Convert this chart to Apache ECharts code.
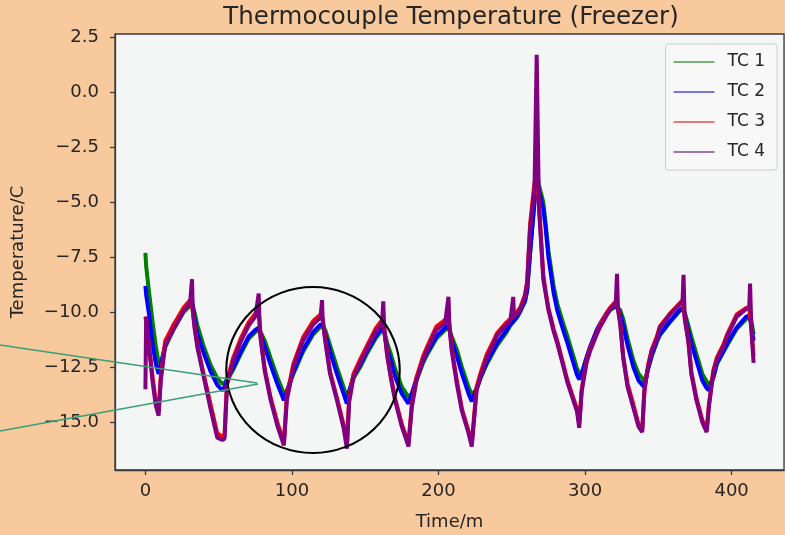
<!DOCTYPE html>
<html>
<head>
<meta charset="utf-8">
<script src="https://cdn.jsdelivr.net/npm/echarts@6/dist/echarts.min.js"></script>
<style>
html,body{margin:0;padding:0;background:#f8c99c;}
#chart{width:785px;height:535px;}
</style>
</head>
<body>
<div id="chart"></div>
<script>
// time in minutes
const timeMin = [
  0, 0.5, 2.5, 5, 7, 9, 10.5, 13.5, 19, 26,
  30.5, 31.8, 32.3, 33.5, 35.5, 40, 44.5, 49, 52.5, 54,
  55.7, 60, 65, 70.5, 75, 77.3, 77.8, 78.6, 81.5, 85.5,
  90, 94.5, 96.5, 101, 107.5, 114.5, 119.5, 120.5, 121, 122.7,
  126, 130.7, 135.2, 137.5, 139, 142, 146.5, 151, 157, 161.5,
  162.3, 163, 165, 167.5, 170.5, 175, 179.5, 181.8, 185, 189.5,
  192, 198.5, 204.5, 206.8, 207.5, 209, 212.5, 216, 220.5, 222.7,
  226, 229, 233, 237.5, 240, 246.5, 249, 251, 251.5, 253.5,
  256, 259, 260.5, 262.5, 265.5, 267, 268.5, 271.5, 273, 275,
  278.5, 281, 285.5, 288, 294.5, 296, 297.7, 301, 303.5, 308,
  310, 315, 317, 321, 321.8, 322.5, 324, 326, 329, 333,
  336.5, 339, 340.5, 343, 345.5, 349, 351, 358, 364.5, 366.5,
  367.2, 368, 370.5, 372.5, 376, 380, 383, 384.5, 387.5, 390,
  394.5, 397, 403.5, 410, 412, 412.6, 413.5, 415
];
const tc1 = [
  -7.3, -7.9, -9.1, -10.5, -11.5, -12.3, -12.3, -11.6, -10.8, -10.0,
  -9.7, -9.6, -9.7, -10.0, -10.6, -11.6, -12.4, -13.0, -13.25, -13.2,
  -13.1, -12.6, -11.9, -11.2, -10.9, -10.8, -10.8, -10.9, -11.3, -12.1,
  -12.95, -13.7, -13.6, -12.8, -11.8, -11.0, -10.65, -10.6, -10.6, -10.8,
  -11.5, -12.5, -13.4, -13.85, -13.6, -13.0, -12.5, -11.9, -11.2, -10.8,
  -10.8, -10.9, -11.4, -11.9, -12.6, -13.4, -13.85, -13.7, -13.1, -12.3,
  -11.95, -11.2, -10.8, -10.7, -10.8, -11.1, -11.7, -12.5, -13.4, -13.75,
  -13.5, -12.95, -12.35, -11.8, -11.5, -10.9, -10.6, -10.45, -10.4, -10.25,
  -9.95, -9.5, -9.0, -7.3, -4.9, -3.6, -4.2, -5.0, -5.9, -7.2,
  -8.8, -9.6, -10.6, -11.1, -12.55, -12.75, -12.8, -12.1, -11.6, -10.85,
  -10.6, -10.05, -9.9, -9.75, -9.7, -9.8, -9.9, -10.3, -11.2, -12.2,
  -12.8, -13.0, -13.15, -12.6, -12.0, -11.35, -11.05, -10.45, -9.95, -9.85,
  -9.85, -10.0, -10.6, -11.1, -11.9, -12.8, -13.15, -13.3, -13.0, -12.35,
  -11.8, -11.5, -10.75, -10.3, -10.2, -10.2, -10.4, -11.0
];
const tc2 = [
  -8.8, -9.2, -10.1, -11.5, -12.3, -12.8, -12.4, -11.5, -10.6, -9.9,
  -9.6, -9.5, -9.7, -10.3, -11.0, -11.9, -12.7, -13.3, -13.55, -13.4,
  -13.0, -12.5, -11.8, -11.1, -10.8, -10.7, -10.8, -11.0, -11.6, -12.4,
  -13.25, -14.0, -13.6, -12.7, -11.7, -10.9, -10.55, -10.5, -10.6, -11.0,
  -11.8, -12.8, -13.7, -14.15, -13.6, -12.9, -12.4, -11.8, -11.1, -10.7,
  -10.7, -10.9, -11.7, -12.2, -12.95, -13.7, -14.15, -13.7, -13.0, -12.2,
  -11.85, -11.1, -10.7, -10.6, -10.8, -11.3, -12.0, -12.8, -13.7, -14.05,
  -13.45, -12.9, -12.25, -11.7, -11.4, -10.8, -10.55, -10.4, -10.35, -10.2,
  -9.9, -9.5, -9.0, -7.3, -5.0, -3.9, -4.5, -5.3, -6.1, -7.5,
  -9.1, -9.9, -10.9, -11.4, -12.85, -13.05, -12.8, -12.05, -11.55, -10.8,
  -10.55, -10.0, -9.85, -9.7, -9.65, -9.8, -10.1, -10.6, -11.5, -12.5,
  -13.1, -13.3, -13.4, -12.55, -11.95, -11.3, -11.0, -10.4, -9.9, -9.8,
  -9.8, -10.1, -10.9, -11.4, -12.2, -13.1, -13.45, -13.55, -12.95, -12.3,
  -11.75, -11.4, -10.7, -10.2, -10.15, -10.15, -10.6, -11.3
];
const tc3 = [
  -10.2, -10.4, -11.5, -13.0, -14.0, -14.5, -12.9, -11.3, -10.6, -9.8,
  -9.45, -9.4, -9.9, -10.6, -11.5, -12.9, -14.2, -15.5, -15.65, -15.6,
  -13.1, -12.05, -11.2, -10.45, -10.05, -9.95, -10.3, -11.1, -12.6, -13.9,
  -15.0, -15.9, -13.8, -12.35, -11.15, -10.4, -10.1, -10.05, -10.3, -11.2,
  -12.7, -13.9, -15.1, -16.0, -13.9, -12.8, -12.15, -11.55, -10.75, -10.35,
  -10.3, -10.7, -11.9, -12.9, -13.95, -15.1, -15.95, -14.2, -12.95, -12.0,
  -11.6, -10.65, -10.35, -10.25, -10.6, -11.6, -13.1, -14.4, -15.4, -15.95,
  -13.4, -12.7, -11.9, -11.3, -10.95, -10.45, -10.3, -10.2, -10.15, -10.0,
  -9.75, -9.2, -8.6, -6.0, -4.1, -3.9, -5.0, -8.3, -9.0, -9.8,
  -10.75, -11.3, -12.45, -13.1, -14.4, -15.1, -13.5, -12.2, -11.65, -10.95,
  -10.6, -10.0, -9.8, -9.5, -9.45, -9.8, -10.45, -12.0, -13.25, -14.2,
  -15.1, -15.35, -13.6, -12.4, -11.7, -11.1, -10.65, -10.05, -9.6, -9.45,
  -9.45, -10.2, -11.25, -12.7, -13.9, -14.9, -15.35, -14.2, -12.65, -12.05,
  -11.45, -11.0, -10.1, -9.8, -9.8, -9.85, -10.7, -12.0
];
const tc4 = [
  -13.5, -10.2, -11.6, -13.2, -14.2, -14.7, -13.1, -11.5, -10.8, -9.95,
  -9.55, -8.5, -9.9, -10.7, -11.6, -13.0, -14.4, -15.7, -15.8, -15.75,
  -13.3, -12.2, -11.35, -10.6, -10.2, -9.15, -10.4, -11.2, -12.7, -14.0,
  -15.15, -16.05, -14.0, -12.5, -11.3, -10.55, -10.25, -9.45, -10.4, -11.3,
  -12.8, -14.0, -15.25, -16.2, -14.1, -12.95, -12.3, -11.7, -10.9, -10.5,
  -9.5, -10.8, -12.0, -13.0, -14.05, -15.2, -16.1, -14.3, -13.1, -12.15,
  -11.75, -10.8, -10.5, -9.3, -10.7, -11.75, -13.25, -14.5, -15.5, -16.1,
  -13.55, -12.85, -12.05, -11.45, -11.05, -10.55, -10.4, -9.3, -10.2, -10.1,
  -9.85, -9.3, -8.7, -6.2, -4.4, 1.7, -5.2, -8.5, -9.1, -9.9,
  -10.85, -11.4, -12.55, -13.2, -14.5, -15.25, -13.6, -12.3, -11.75, -11.0,
  -10.7, -10.1, -9.9, -9.55, -8.25, -9.9, -10.55, -12.05, -13.4, -14.35,
  -15.2, -15.45, -13.5, -12.5, -11.75, -11.2, -10.7, -10.1, -9.65, -9.5,
  -8.3, -10.3, -11.35, -12.8, -14.0, -15.0, -15.45, -14.3, -12.75, -12.15,
  -11.55, -11.1, -10.2, -9.85, -9.8, -8.7, -10.8, -12.3
];
const seriesNames = ['TC 1', 'TC 2', 'TC 3', 'TC 4'];
const seriesValues = [tc1, tc2, tc3, tc4];
const seriesColors = ['#008000', '#0000ff', '#ff0000', '#800080'];
const legendColors = ['#4c9a4c', '#4c4cd8', '#e05050', '#8a4a8a'];
const xTicks = [0, 100, 200, 300, 400];
const yTicks = [-15, -12.5, -10, -7.5, -5, -2.5, 0, 2.5];

const FONT = 'DejaVu Sans';
const chart = echarts.init(document.getElementById('chart'), null, {renderer: 'canvas'});

const fmtY = v => (v < 0 ? '\u2212' : '') + Math.abs(v).toFixed(1);

const option = {
  backgroundColor: '#f8c99c',
  animation: false,
  title: {
    text: 'Thermocouple Temperature (Freezer)',
    left: 446,
    textAlign: 'center',
    top: 0,
    textStyle: {fontFamily: FONT, fontSize: 24.5, fontWeight: 'normal', color: '#262626'}
  },
  grid: {
    left: 115, right: 1, top: 34, bottom: 65,
    containLabel: false, outerBoundsMode: 'none',
    show: true, backgroundColor: '#f4f6f6', borderColor: '#3a3a3a', borderWidth: 1.3
  },
  legend: {
    orient: 'vertical',
    right: 8, top: 44,
    padding: [8, 12, 8, 8],
    icon: 'rect',
    itemWidth: 41, itemHeight: 1.6, itemGap: 10,
    backgroundColor: 'rgba(248,248,248,0.85)',
    borderColor: '#cccccc', borderWidth: 1, borderRadius: 3,
    textStyle: {fontFamily: FONT, fontSize: 17, color: '#262626', lineHeight: 20, padding: [0, 0, 0, 8]},
    data: seriesNames.map((n, k) => ({name: n, itemStyle: {color: legendColors[k]}}))
  },
  xAxis: {
    type: 'value', min: -20.75, max: 435.75,
    name: 'Time/m', nameLocation: 'middle', nameGap: 43,
    nameTextStyle: {fontFamily: FONT, fontSize: 18, color: '#262626'},
    axisLine: {onZero: false, lineStyle: {color: '#3a3a3a', width: 1.3}},
    axisTick: {show: true, length: 5, customValues: xTicks, lineStyle: {color: '#3a3a3a', width: 1.3}},
    axisLabel: {customValues: xTicks, margin: 12, fontFamily: FONT, fontSize: 18, color: '#262626',
      formatter: v => String(v)},
    splitLine: {show: false}
  },
  yAxis: {
    type: 'value', min: -17.17, max: 2.65,
    name: 'Temperature/C', nameLocation: 'middle', nameGap: 88, nameRotate: 90,
    nameTextStyle: {fontFamily: FONT, fontSize: 18, color: '#262626'},
    axisLine: {onZero: false, lineStyle: {color: '#3a3a3a', width: 1.3}},
    axisTick: {show: true, length: 5, customValues: yTicks, lineStyle: {color: '#3a3a3a', width: 1.3}},
    axisLabel: {customValues: yTicks, margin: 16, fontFamily: FONT, fontSize: 18, color: '#262626',
      formatter: fmtY},
    splitLine: {show: false}
  },
  series: seriesNames.map((name, k) => ({
    name: name,
    type: 'line',
    symbol: 'none',
    color: seriesColors[k],
    lineStyle: {width: 4, color: seriesColors[k]},
    z: 2 + k,
    data: timeMin.map((t, i) => [t, seriesValues[k][i]])
  })),
  graphic: [
    {type: 'circle', x: 313, y: 370, scaleX: 1.045, shape: {cx: 0, cy: 0, r: 83},
      style: {fill: 'none', stroke: '#000000', lineWidth: 2}, z: 100},
    {type: 'line', shape: {x1: 0, y1: 345, x2: 257, y2: 383},
      style: {stroke: '#3a9e78', lineWidth: 1.6}, z: 100},
    {type: 'line', shape: {x1: 0, y1: 431, x2: 258, y2: 384},
      style: {stroke: '#3a9e78', lineWidth: 1.6}, z: 100}
  ]
};
chart.setOption(option);
</script>
</body>
</html>
